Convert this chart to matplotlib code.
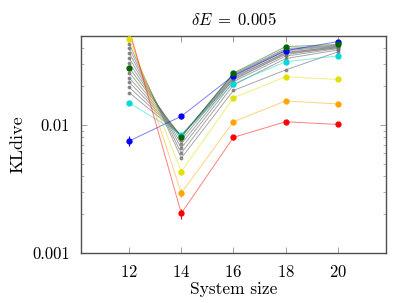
import numpy as np
import matplotlib
matplotlib.use('Agg')
import matplotlib.pyplot as plt
from matplotlib.ticker import FixedLocator, LogLocator, NullFormatter

plt.rcParams['font.family'] = 'serif'
plt.rcParams['font.serif'] = ['cmr10', 'DejaVu Serif']
plt.rcParams['mathtext.fontset'] = 'cm'
plt.rcParams['axes.formatter.use_mathtext'] = True

sizes = [12, 14, 16, 18, 20]

# coloured curves
red = [0.056, 0.00204, 0.0080, 0.0106, 0.0101]
orange = [0.052, 0.00294, 0.0106, 0.0154, 0.0146]
yellow = [0.0472, 0.00432, 0.0163, 0.0238, 0.0227]
green = [0.0279, 0.0081, 0.0254, 0.0409, 0.0426]
cyan = [0.0149, 0.0084, 0.0210, 0.0312, 0.0346]
blue = [0.0075, 0.0117, 0.0243, 0.0380, 0.0448]

red_err = [0.0, 0.00018, 0.0003, 0.0003, 0.0003]
orange_err = [0.0, 0.0002, 0.0003, 0.0004, 0.0004]
yellow_err = [0.001, 0.0002, 0.0004, 0.0005, 0.0005]
green_err = [0.0008, 0.0003, 0.0006, 0.0008, 0.0008]
cyan_err = [0.0005, 0.0003, 0.0005, 0.0006, 0.0006]
blue_err = [0.0007, 0.0005, 0.0006, 0.0008, 0.0009]

# grey curves (between the coloured ones)
greys = [
    [0.0432, 0.00552, 0.0186, 0.0269, 0.0372],
    [0.0397, 0.00604, 0.0205, 0.0330, 0.0385],
    [0.0365, 0.0066, 0.0218, 0.0345, 0.0395],
    [0.0334, 0.00711, 0.0228, 0.0355, 0.0403],
    [0.0305, 0.00764, 0.0236, 0.0365, 0.0410],
    [0.0256, 0.0081, 0.0250, 0.0395, 0.0420],
    [0.0234, 0.0082, 0.0246, 0.0388, 0.0416],
    [0.0216, 0.0082, 0.0240, 0.0380, 0.0412],
    [0.0197, 0.0083, 0.0232, 0.0370, 0.0406],
    [0.0179, 0.0083, 0.0224, 0.0362, 0.0400],
]

colored = [
    (blue, blue_err, '#0000ff'),
    (cyan, cyan_err, '#00d8d8'),
    (green, green_err, '#006400'),
    (yellow, yellow_err, '#e0e000'),
    (orange, orange_err, '#ffa500'),
    (red, red_err, '#ff0000'),
]

fig = plt.figure(figsize=(3.99, 3.03), dpi=100)
ax = fig.add_axes([0.203, 0.165, 0.764, 0.716])

for g in greys:
    ax.plot(sizes, g, color='#808080', lw=0.7, alpha=0.7, marker='o', ms=1.8,
            mec='#707070', mfc='#707070', zorder=2)

for vals, err, c in colored:
    ax.plot(sizes, vals, color=c, lw=0.7, alpha=0.5, zorder=3)
    ax.errorbar(sizes, vals, yerr=err, fmt='o', ms=3.5, color=c, ecolor=c,
                elinewidth=0.8, capsize=0, alpha=1, zorder=4)

ax.set_yscale('log')
ax.set_ylim(0.001, 0.0495)
ax.set_xlim(10.15, 21.85)

ax.yaxis.set_major_locator(FixedLocator([0.001, 0.01]))
ax.yaxis.set_minor_locator(LogLocator(base=10, subs=np.arange(2, 10)))
ax.yaxis.set_minor_formatter(NullFormatter())
ax.set_yticklabels(['0.001', '0.01'])
ax.set_xticks(sizes)

ax.tick_params(which='major', direction='in', top=True, right=True, length=4,
               width=0.6, color='#909090', labelsize=12, pad=8)
ax.tick_params(which='minor', direction='in', left=True, right=True, length=2,
               width=0.5, color='#909090')
for s in ax.spines.values():
    s.set_color('#505050')
    s.set_linewidth(1.0)

ax.set_xlabel('System size', fontsize=12.5, labelpad=1)
ax.set_ylabel('KLdive', fontsize=13, labelpad=5)
ax.set_title(r'$\delta E\;=\;0.005$', fontsize=12, pad=8)

fig.savefig('out.png', dpi=100)
